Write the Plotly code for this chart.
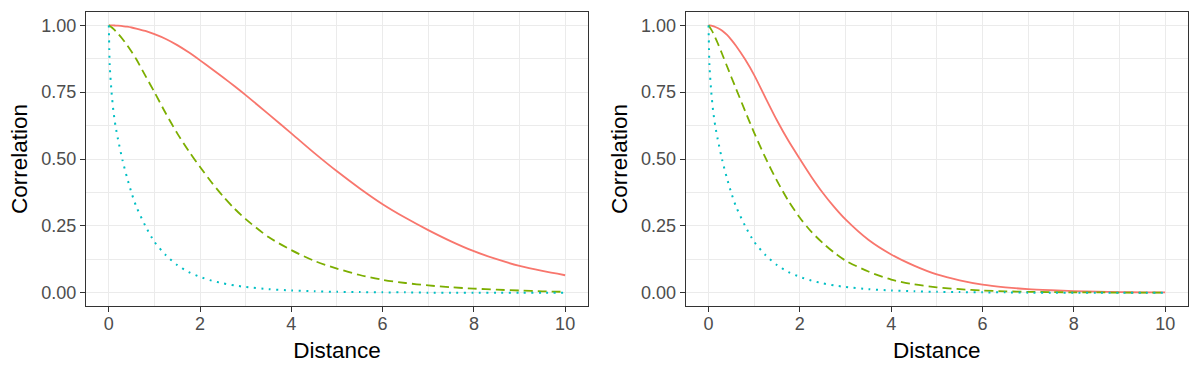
import plotly.graph_objects as go
from plotly.subplots import make_subplots

# ---- data ----
distance = [0, 0.02, 0.06, 0.1, 0.15, 0.2, 0.3, 0.4, 0.5, 0.6, 0.8, 1.0, 1.25, 1.5, 1.75,
            2.0, 2.25, 2.5, 2.75, 3.0, 3.5, 4.0, 4.5, 5.0, 5.5, 6.0, 6.5, 7.0, 7.5, 8.0,
            8.5, 9.0, 9.5, 10.0]

left_solid = [1.0, 1.0, 1.0, 1.0, 0.999, 0.999, 0.997, 0.995, 0.992, 0.988, 0.979, 0.967,
              0.949, 0.926, 0.899, 0.869, 0.838, 0.806, 0.773, 0.739, 0.668, 0.596, 0.523,
              0.454, 0.39, 0.331, 0.28, 0.234, 0.192, 0.155, 0.125, 0.1, 0.081, 0.065]
left_dashed = [1.0, 0.998, 0.993, 0.987, 0.978, 0.969, 0.949, 0.926, 0.901, 0.874, 0.812, 0.75,
               0.67, 0.596, 0.53, 0.47, 0.413, 0.361, 0.315, 0.275, 0.208, 0.159, 0.119,
               0.09, 0.066, 0.048, 0.036, 0.027, 0.02, 0.015, 0.011, 0.008, 0.005, 0.003]
left_dotted = [1.0, 0.85, 0.75, 0.68, 0.62, 0.575, 0.495, 0.43, 0.372, 0.323, 0.25, 0.19,
               0.14, 0.103, 0.077, 0.059, 0.045, 0.035, 0.027, 0.021, 0.013, 0.008, 0.005,
               0.003, 0.002, 0.001, 0.001, 0.0, 0.0, 0.0, 0.0, 0.0, 0.0, 0.0]

right_solid = [1.0, 1.0, 0.999, 0.997, 0.994, 0.99, 0.98, 0.965, 0.946, 0.924, 0.873, 0.814,
               0.728, 0.644, 0.568, 0.5, 0.434, 0.374, 0.321, 0.274, 0.198, 0.143, 0.101,
               0.068, 0.046, 0.03, 0.02, 0.013, 0.009, 0.006, 0.004, 0.002, 0.001, 0.001]
right_dashed = [1.0, 0.995, 0.984, 0.972, 0.953, 0.934, 0.892, 0.849, 0.806, 0.764, 0.68, 0.598,
                0.503, 0.418, 0.343, 0.28, 0.228, 0.186, 0.15, 0.12, 0.079, 0.049, 0.031,
                0.02, 0.013, 0.008, 0.005, 0.003, 0.002, 0.001, 0.001, 0.0, 0.0, 0.0]
right_dotted = left_dotted

x_ticks = [0, 2, 4, 6, 8, 10]
y_ticks = [0.0, 0.25, 0.5, 0.75, 1.0]
y_tick_labels = ["0.00", "0.25", "0.50", "0.75", "1.00"]

RED, GREEN, CYAN = "#F8766D", "#7CAE00", "#00BFC4"
FONT = "Liberation Sans, Arial, Helvetica, sans-serif"

fig = make_subplots(rows=1, cols=2, horizontal_spacing=0.0887)

panels = [
    (1, left_solid, left_dashed, left_dotted),
    (2, right_solid, right_dashed, right_dotted),
]
for col, s, d, o in panels:
    fig.add_trace(go.Scatter(x=distance, y=s, mode="lines",
                             line=dict(color=RED, width=1.8, shape="spline", smoothing=0.8),
                             showlegend=False, hoverinfo="skip"), row=1, col=col)
    fig.add_trace(go.Scatter(x=distance, y=d, mode="lines",
                             line=dict(color=GREEN, width=1.8, dash="9px,5px",
                                       shape="spline", smoothing=0.8),
                             showlegend=False, hoverinfo="skip"), row=1, col=col)
    fig.add_trace(go.Scatter(x=distance, y=o, mode="lines",
                             line=dict(color=CYAN, width=2.0, dash="2px,5.5px",
                                       shape="spline", smoothing=0.6),
                             showlegend=False, hoverinfo="skip"), row=1, col=col)

axis_common = dict(
    showline=True, linecolor="#333333", linewidth=1.1, mirror=True,
    ticks="outside", ticklen=5, tickwidth=1.1, tickcolor="#333333",
    tickfont=dict(family=FONT, size=18, color="#4D4D4D"),
    showgrid=True, gridcolor="#EBEBEB", gridwidth=1.4, zeroline=False,
)

for col in (1, 2):
    fig.update_xaxes(
        range=[-0.5, 10.5], tickvals=x_ticks, ticktext=[str(v) for v in x_ticks],
        ticklabelstandoff=-4,
        minor=dict(dtick=1, tick0=1, showgrid=True, gridcolor="#EBEBEB", gridwidth=0.7, ticks=""),
        title=dict(text="Distance", font=dict(family=FONT, size=22.5, color="black"), standoff=9),
        row=1, col=col, **axis_common)
    fig.update_yaxes(
        range=[-0.05, 1.05], tickvals=y_ticks, ticktext=y_tick_labels,
        minor=dict(dtick=0.25, tick0=0.125, showgrid=True, gridcolor="#EBEBEB", gridwidth=0.7, ticks=""),
        title=dict(text="Correlation", font=dict(family=FONT, size=22.5, color="black"), standoff=7),
        row=1, col=col, **axis_common)

fig.update_layout(
    width=1200, height=375,
    margin=dict(l=86, r=12, t=12, b=69),
    paper_bgcolor="white", plot_bgcolor="white",
    font=dict(family=FONT),
)
fig.layout.xaxis.domain = [0.0, 0.4555]
fig.layout.xaxis2.domain = [0.5442, 1.0]

fig.write_html("out.html")
